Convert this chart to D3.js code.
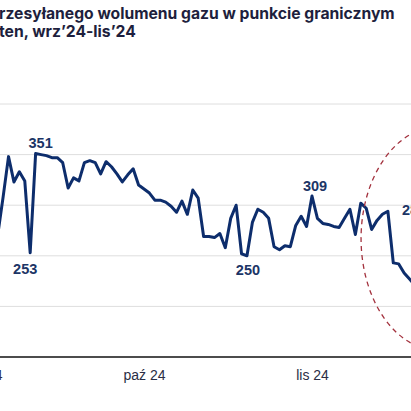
<!DOCTYPE html>
<html>
<head>
<meta charset="utf-8">
<script src="https://cdn.jsdelivr.net/npm/d3@7"></script>
<style>
  html, body { margin: 0; padding: 0; background: #fff; overflow: hidden; }
  svg { display: block; }
</style>
</head>
<body>
<svg id="chart" width="411" height="411"></svg>
<script>
// ---- DATA ----
const titleLines = ["rzesyłanego wolumenu gazu w punkcie granicznym", "ten, wrz’24-lis’24"];
const dates = [
  "2024-09-04","2024-09-05","2024-09-06","2024-09-07","2024-09-08","2024-09-09","2024-09-10",
  "2024-09-11","2024-09-12","2024-09-13","2024-09-14","2024-09-15","2024-09-16","2024-09-17",
  "2024-09-18","2024-09-19","2024-09-20","2024-09-21","2024-09-22","2024-09-23","2024-09-24",
  "2024-09-25","2024-09-26","2024-09-27","2024-09-28","2024-09-29","2024-09-30","2024-10-01",
  "2024-10-02","2024-10-03","2024-10-04","2024-10-05","2024-10-06","2024-10-07","2024-10-08",
  "2024-10-09","2024-10-10","2024-10-11","2024-10-12","2024-10-13","2024-10-14","2024-10-15",
  "2024-10-16","2024-10-17","2024-10-18","2024-10-19","2024-10-20","2024-10-21","2024-10-22",
  "2024-10-23","2024-10-24","2024-10-25","2024-10-26","2024-10-27","2024-10-28","2024-10-29",
  "2024-10-30","2024-10-31","2024-11-01","2024-11-02","2024-11-03","2024-11-04","2024-11-05",
  "2024-11-06","2024-11-07","2024-11-08","2024-11-09","2024-11-10","2024-11-11","2024-11-12",
  "2024-11-13","2024-11-14","2024-11-15","2024-11-16","2024-11-17","2024-11-18","2024-11-19",
  "2024-11-20"
];
const volumes = [
  270,308,348,323,333,324,253,
  351,350,349,347,347,342,317,
  327,324,342,344,342,331,343,
  338,331,323,330,336,320,316,
  312,305,305,303,299,293,304,
  291,315,307,269,269,268,272,
  258,287,300,252,250,283,296,
  293,287,259,256,260,259,280,
  289,279,309,287,282,281,279,
  278,287,296,271,302,297,276,
  285,291,294,243,242,233,227,
  221
];
const tickDates = ["2024-09-01","2024-10-01","2024-11-01"];
const tickLabels = ["wrz 24","paź 24","lis 24"];
const gridValues = [200, 250, 300, 350, 400];
const annotDates = ["2024-09-10","2024-09-11","2024-10-20","2024-11-01","2024-11-20"];
const annotTexts = ["253","351","250","309","28"];
const annotPos = ["below","above","below","above","label"];

// ---- LAYOUT ----
const W = 411, H = 411;
const svg = d3.select("#chart");
const parse = d3.utcParse("%Y-%m-%d");
const data = dates.map((d, i) => ({ date: parse(d), value: volumes[i] }));

const x = d3.scaleUtc()
  .domain([parse("2024-10-01"), parse("2024-11-01")])
  .range([144, 312]);
const y = d3.scaleLinear().domain([150, 400]).range([357, 104]);

// gridlines
svg.append("g").selectAll("line").data(gridValues).join("line")
  .attr("x1", 0).attr("x2", W)
  .attr("y1", d => y(d)).attr("y2", d => y(d))
  .attr("stroke", "#dedede").attr("stroke-width", 1);

// x axis
const xAxis = d3.axisBottom(x)
  .tickValues(tickDates.map(parse))
  .tickFormat((d, i) => tickLabels[i])
  .tickSize(0).tickPadding(13);
const gx = svg.append("g").attr("transform", `translate(0,${y(150)})`).call(xAxis);
gx.select(".domain").remove();
gx.append("line").attr("x1", 0).attr("x2", W).attr("y1", 0).attr("y2", 0)
  .attr("stroke", "#111").attr("stroke-width", 1.5);
gx.selectAll("text")
  .attr("font-family", "'Liberation Sans', Arial, sans-serif")
  .attr("font-size", 14).attr("fill", "#2a2e45");

// line
const line = d3.line().x(d => x(d.date)).y(d => y(d.value));
svg.append("path").datum(data)
  .attr("d", line)
  .attr("fill", "none")
  .attr("stroke", "#0d2d6c")
  .attr("stroke-width", 3)
  .attr("stroke-linejoin", "round");

// red dashed ellipse highlight
svg.append("ellipse")
  .attr("cx", x(parse("2024-11-25")) - 3)
  .attr("cy", y(267))
  .attr("rx", 78).attr("ry", 112)
  .attr("fill", "none")
  .attr("stroke", "#a3313d")
  .attr("stroke-width", 1.3)
  .attr("stroke-dasharray", "5,4");

// annotations
const labelOffsets = { "253": [-5, 21], "351": [5, -6], "250": [1, 19], "309": [3, -5], "28": [-13, -8] };
annotDates.forEach((d, i) => {
  const dt = parse(d);
  const v = volumes[dates.indexOf(d)];
  const t = annotTexts[i];
  const off = labelOffsets[t];
  let ty;
  if (annotPos[i] === "label") ty = y(282) + off[1];
  else ty = y(v) + off[1];
  svg.append("text")
    .attr("x", x(dt) + off[0])
    .attr("y", ty)
    .attr("text-anchor", annotPos[i] === "label" ? "start" : "middle")
    .attr("font-family", "'Liberation Sans', Arial, sans-serif")
    .attr("font-weight", "bold")
    .attr("font-size", 14.5)
    .attr("fill", "#1c3566")
    .text(t);
});

// title (cropped in the reference)
const tg = svg.append("g");
const t1 = tg.append("text").attr("x", -1).attr("y", 19)
  .attr("font-family", "Inter, 'Liberation Sans', Arial, sans-serif")
  .attr("font-weight", 700).attr("font-size", 16).attr("fill", "#1e1f3d")
  .text(titleLines[0]);
const w1 = t1.node().getComputedTextLength();
const fs = 16 * 396 / w1;
t1.attr("font-size", fs);
tg.append("text").attr("x", -1).attr("y", 37)
  .attr("font-family", "Inter, 'Liberation Sans', Arial, sans-serif")
  .attr("font-weight", 700).attr("font-size", fs).attr("fill", "#1e1f3d")
  .text(titleLines[1]);
</script>
</body>
</html>
